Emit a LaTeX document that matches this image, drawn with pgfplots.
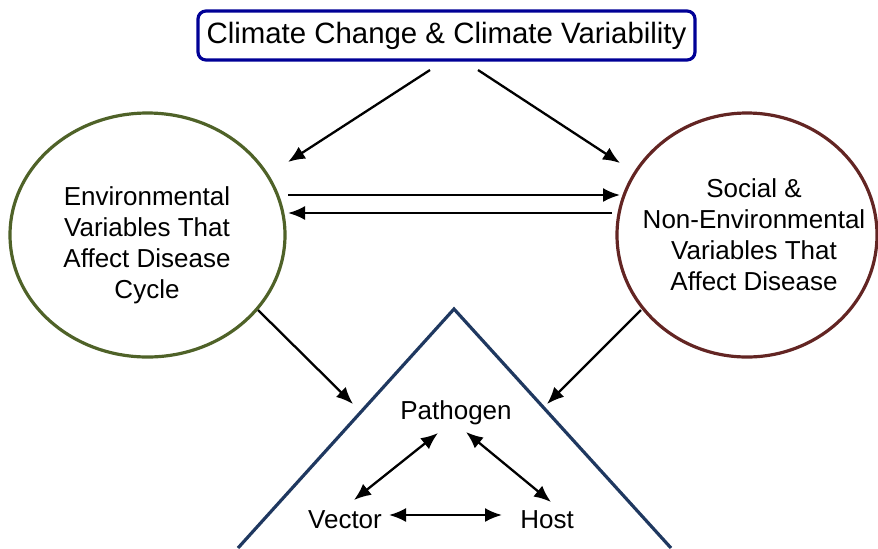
\documentclass[border=0pt]{standalone}
\usepackage{fontspec}
\setmainfont{Liberation Sans}
\usepackage{pgfplots}
\pgfplotsset{compat=1.18}
\usetikzlibrary{arrows.meta}
\definecolor{boxblue}{RGB}{0,0,150}
\definecolor{olivegreen}{RGB}{79,98,40}
\definecolor{darkred}{RGB}{99,37,35}
\definecolor{triblue}{RGB}{31,56,96}
\begin{document}
\begin{tikzpicture}
\begin{axis}[
  x=0.5pt, y=0.5pt, y dir=reverse,
  xmin=0, xmax=878, ymin=0, ymax=548,
  axis lines=none, clip=true,
  every axis plot/.append style={mark=none},
  arr/.style={black, line width=1.15pt, -{Latex[length=8.5pt,width=7pt]}},
  darr/.style={black, line width=1.15pt, {Latex[length=8.5pt,width=7pt]}-{Latex[length=8.5pt,width=7pt]}},
]
% triangle
\addplot[triblue, line width=1.6pt] coordinates {(238,548) (454,309) (671,548)};
% ellipses
\draw[olivegreen, line width=1.6pt] (axis cs:147.5,235) ellipse [x radius=137.5, y radius=122];
\draw[darkred, line width=1.6pt] (axis cs:747,235) ellipse [x radius=130, y radius=122];
% title box
\draw[boxblue, line width=1.6pt, rounded corners=4pt] (axis cs:198,11) rectangle (axis cs:695,60);
\node[font=\fontsize{14.7}{17}\selectfont] at (axis cs:446.5,35.5) {Climate Change \& Climate Variability};
% arrows
\addplot[arr] coordinates {(430,70) (288,162)};
\addplot[arr] coordinates {(478,70) (620,163)};
\addplot[arr] coordinates {(288,195) (620,195)};
\addplot[arr] coordinates {(612,213) (288,213)};
\addplot[arr] coordinates {(258,310) (353,404)};
\addplot[arr] coordinates {(641,310) (547,404)};
\addplot[darr] coordinates {(438,433) (354,500)};
\addplot[darr] coordinates {(466,432) (551,502)};
\addplot[darr] coordinates {(389,515) (502,515)};
% texts
\node[align=center, font=\fontsize{13}{15.5}\selectfont] at (axis cs:147,245) {Environmental\\Variables That\\Affect Disease\\Cycle};
\node[align=center, font=\fontsize{13}{15.5}\selectfont] at (axis cs:754,235) {Social \&\\Non-Environmental\\Variables That\\Affect Disease};
\node[font=\fontsize{13}{15.5}\selectfont] at (axis cs:456,413) {Pathogen};
\node[font=\fontsize{13}{15.5}\selectfont] at (axis cs:345,520) {Vector};
\node[font=\fontsize{13}{15.5}\selectfont] at (axis cs:547,520) {Host};
\end{axis}
\path (current axis.south west) rectangle (current axis.north east);
\end{tikzpicture}
\end{document}
